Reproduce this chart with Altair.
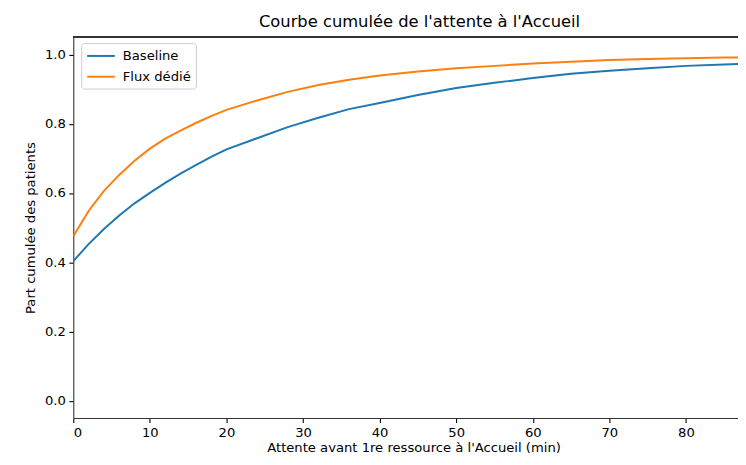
import altair as alt
import pandas as pd

# Waiting time grid (minutes)
minutes = [0, 2, 4, 6, 8, 10, 12, 14, 16, 18, 20, 24, 28, 32, 36, 40, 45, 50,
           55, 60, 65, 70, 75, 80, 85, 90]

# Cumulative share of patients
baseline = [0.403, 0.452, 0.496, 0.535, 0.570, 0.600, 0.629, 0.656, 0.680,
            0.704, 0.726, 0.758, 0.790, 0.817, 0.842, 0.860, 0.883, 0.903,
            0.918, 0.932, 0.944, 0.953, 0.960, 0.967, 0.971, 0.975]
flux_dedie = [0.475, 0.548, 0.606, 0.652, 0.693, 0.728, 0.757, 0.780, 0.802,
              0.822, 0.840, 0.867, 0.892, 0.912, 0.927, 0.939, 0.951, 0.960,
              0.967, 0.974, 0.979, 0.984, 0.987, 0.989, 0.991, 0.992]

series_names = ["Baseline", "Flux dédié"]
series_colors = ["#1f77b4", "#ff7f0e"]

x_ticks = [0, 10, 20, 30, 40, 50, 60, 70, 80]
y_ticks = [0.0, 0.2, 0.4, 0.6, 0.8, 1.0]

rows = []
for name, vals in zip(series_names, [baseline, flux_dedie]):
    for m, v in zip(minutes, vals):
        rows.append({"minutes": m, "share": v, "series": name})
df = pd.DataFrame(rows)

W, H = 672, 385
FONT = "DejaVu Sans"
FS = 13.3

lines = alt.Chart(df).mark_line(strokeWidth=2, clip=True).encode(
    x=alt.X("minutes:Q",
            scale=alt.Scale(domain=[0, 86.8], nice=False, zero=False),
            axis=alt.Axis(values=x_ticks, format="d",
                          title="Attente avant 1re ressource à l'Accueil (min)",
                          titleX=344, titlePadding=2)),
    y=alt.Y("share:Q",
            scale=alt.Scale(domain=[-0.05, 1.05], nice=False, zero=False),
            axis=alt.Axis(values=y_ticks, format=".1f",
                          title="Part cumulée des patients", titlePadding=7)),
    color=alt.Color("series:N",
                    scale=alt.Scale(domain=series_names, range=series_colors),
                    legend=alt.Legend(title=None, orient="none", legendX=8, legendY=6,
                                      symbolType="M-2,0H2", symbolSize=196,
                                      symbolStrokeWidth=2, symbolOffset=7,
                                      labelOffset=14, padding=5, rowPadding=6,
                                      strokeColor="#cccccc", fillColor="white",
                                      cornerRadius=3, labelFont=FONT,
                                      labelFontSize=FS, labelColor="black")),
)

top_spine = alt.Chart(df).mark_rule(color="#333333", strokeWidth=1.1).encode(
    x=alt.value(0), x2=alt.value(W), y=alt.value(0)
)

chart = alt.layer(lines, top_spine).properties(
    width=W, height=H,
    title=alt.TitleParams("Courbe cumulée de l'attente à l'Accueil", font=FONT,
                          fontSize=16.5, fontWeight="normal", color="black",
                          anchor="middle", dx=14, offset=6),
    autosize=alt.AutoSizeParams(type="none"),
    padding={"left": 66, "top": 27, "right": 0, "bottom": 37},
).configure(background="white").configure_view(stroke=None).configure_axis(
    grid=False, labelFont=FONT, labelFontSize=FS, labelColor="black",
    titleFont=FONT, titleFontSize=FS, titleFontWeight="normal", titleColor="black",
    tickColor="black", tickSize=4.5, tickWidth=1.1, labelPadding=3.5,
    domainColor="#333333", domainWidth=1.1,
)

chart.save("out.html", embed_options={"renderer": "svg", "actions": False})
